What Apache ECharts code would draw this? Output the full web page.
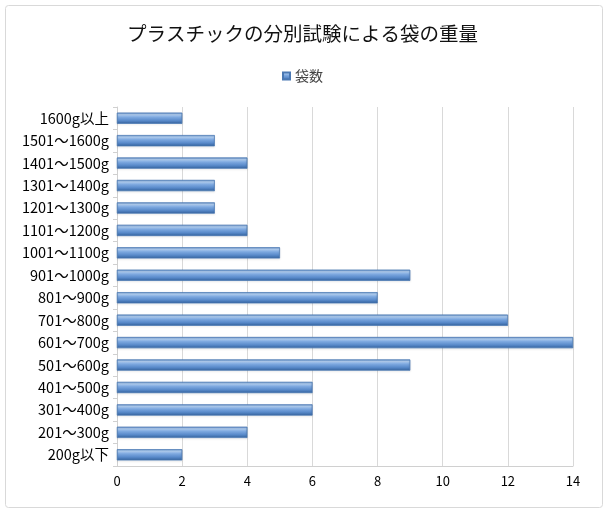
<!DOCTYPE html>
<html>
<head>
<meta charset="utf-8">
<script src="https://cdn.jsdelivr.net/npm/echarts@6/dist/echarts.min.js"></script>
<style>
html, body { margin: 0; padding: 0; background: #fff; }
#main { width: 605px; height: 510px; }
</style>
</head>
<body>
<div id="main"></div>
<script>
// 重量区分（下から上）
var categories = ['200g以下', '201～300g', '301～400g', '401～500g', '501～600g', '601～700g',
	'701～800g', '801～900g', '901～1000g', '1001～1100g', '1101～1200g', '1201～1300g',
	'1301～1400g', '1401～1500g', '1501～1600g', '1600g以上'];
var bagCounts = [2, 4, 6, 6, 9, 14, 12, 8, 9, 5, 4, 3, 3, 4, 3, 2];
var xTicks = [0, 2, 4, 6, 8, 10, 12, 14];

var font = '"Noto Sans CJK JP", sans-serif';
var chart = echarts.init(document.getElementById('main'));
chart.setOption({
	backgroundColor: '#fff',
	graphic: [{
		type: 'rect',
		left: 3,
		top: 3,
		shape: { width: 597, height: 502, r: 3 },
		style: { fill: 'none', stroke: '#d9d9d9', lineWidth: 1 },
		silent: true
	}],
	title: {
		text: 'プラスチックの分別試験による袋の重量',
		left: 'center',
		top: 19,
		textStyle: {
			fontFamily: font,
			fontSize: 19.5,
			fontWeight: 'normal',
			color: '#111'
		}
	},
	legend: {
		data: ['袋数'],
		top: 64,
		left: 'center',
		itemWidth: 7,
		itemHeight: 7,
		itemGap: 5,
		icon: 'rect',
		textStyle: {
			fontFamily: font,
			fontSize: 14,
			color: '#444'
		}
	},
	grid: {
		left: 117,
		right: 32,
		top: 107,
		bottom: 44,
		containLabel: false
	},
	xAxis: {
		type: 'value',
		min: xTicks[0],
		max: xTicks[xTicks.length - 1],
		interval: 2,
		axisLine: { show: true, lineStyle: { color: '#d0d0d0' } },
		axisTick: { show: false },
		axisLabel: {
			fontFamily: font,
			fontSize: 13,
			color: '#000',
			margin: 9
		},
		splitLine: { show: true, lineStyle: { color: '#d9d9d9' } }
	},
	yAxis: {
		type: 'category',
		data: categories,
		axisLine: { show: true, lineStyle: { color: '#d0d0d0' } },
		axisTick: { show: true, length: 4, lineStyle: { color: '#d0d0d0' } },
		axisLabel: {
			fontFamily: font,
			fontSize: 14.5,
			color: '#000',
			margin: 8
		}
	},
	series: [{
		name: '袋数',
		type: 'bar',
		data: bagCounts,
		barWidth: 11,
		itemStyle: {
			color: new echarts.graphic.LinearGradient(0, 0, 0, 1, [
				{ offset: 0, color: '#7ba5da' },
				{ offset: 0.18, color: '#b0cdf0' },
				{ offset: 0.4, color: '#7ea9e0' },
				{ offset: 0.7, color: '#5a8bcb' },
				{ offset: 1, color: '#35649f' }
			]),
			borderColor: '#4a78b3',
			borderWidth: 0.5,
			shadowColor: 'rgba(0,0,0,0.2)',
			shadowBlur: 2,
			shadowOffsetY: 1
		}
	}],
	color: ['#4f81bd']
});
</script>
</body>
</html>
